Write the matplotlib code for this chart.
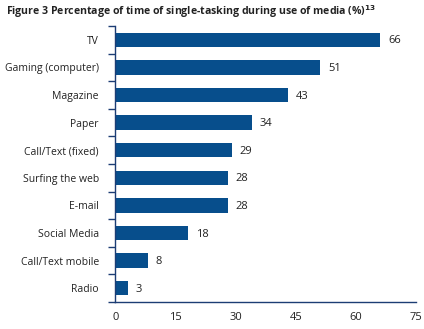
import numpy as np
import matplotlib.pyplot as plt

# Data ==================================================================================================================
categories = ["TV", "Gaming (computer)", "Magazine", "Paper", "Call/Text (fixed)",
              "Surfing the web", "E-mail", "Social Media", "Call/Text mobile", "Radio"]
values = [66, 51, 43, 34, 29, 28, 28, 18, 8, 3]
xticks = [0, 15, 30, 45, 60, 75]

title = r"Figure 3 Percentage of time of single-tasking during use of media (%)$^{\mathbf{13}}$"

bar_color = "#074e8c"
axis_color = "#1c3d74"

plt.rcParams['font.family'] = ['Open Sans', 'DejaVu Sans']

fig = plt.figure(figsize=(4.24, 3.29), dpi=100)
ax = fig.add_axes([115.5/424, 1 - 302/329, (416 - 115.5)/424, (302 - 26)/329])

y = np.arange(len(categories))
ax.barh(y, values, height=0.52, color=bar_color)
for yi, v in zip(y, values):
    ax.text(v + 2, yi + 0.04, str(v), va='center', ha='left', fontsize=8, color='#222222')

ax.set_ylim(len(categories) - 0.5, -0.5)
ax.set_xlim(0, 75)
ax.set_yticks(y)
ax.set_yticklabels(categories, fontsize=7.5, color='#222222')
ax.set_yticks(np.arange(-0.5, len(categories)), minor=True)
ax.tick_params(axis='y', which='major', length=0, pad=12)
ax.tick_params(axis='y', which='minor', length=5, width=1, color=axis_color)
ax.set_xticks(xticks)
ax.set_xticklabels([str(t) for t in xticks], fontsize=8, color='#222222')
ax.tick_params(axis='x', length=0, pad=7)

for s in ['top', 'right']:
    ax.spines[s].set_visible(False)
for s in ['left', 'bottom']:
    ax.spines[s].set_color(axis_color)
    ax.spines[s].set_linewidth(1)

fig.text(6/424, 1 - 12/329, title, fontsize=7.6, fontweight='bold', va='center', ha='left', color='#222222')

fig.savefig("out.png", dpi=100)
